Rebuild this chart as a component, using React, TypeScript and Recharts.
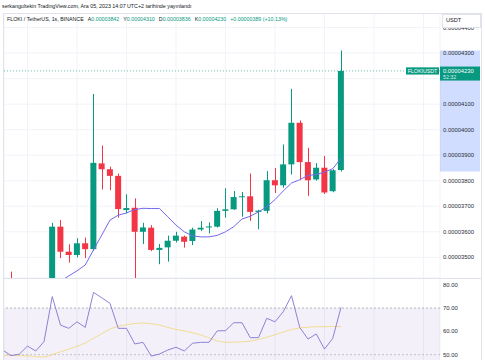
import React from 'react';
import {
  ComposedChart,
  Bar,
  Line,
  XAxis,
  YAxis,
  CartesianGrid,
  ReferenceLine,
  ReferenceArea,
} from 'recharts';

// Prices are stored in units of 1e-8 USDT (3842 -> 0.00003842)
const candleIndex = [-1, 0, 1, 2, 3, 4, 5, 6, 7, 8, 9, 10, 11, 12, 13, 14, 15, 16, 17, 18, 19, 20, 21, 22, 23, 24, 25, 26, 27, 28, 29, 30, 31, 32, 33, 34, 35, 36, 37, 38, 39, 40];
const openP = [3395, 3400, 3388, 3391, 3402, 3395, 3408, 3620, 3522, 3509, 3555, 3532, 3868, 3845, 3819, 3685, 3694, 3600, 3616, 3529, 3539, 3565, 3581, 3564, 3609, 3617, 3620, 3682, 3688, 3736, 3739, 3678, 3682, 3802, 3782, 3864, 4027, 3873, 3805, 3851, 3759, 3842];
const highP = [3410, 3444, 3405, 3412, 3410, 3415, 3635, 3646, 3551, 3575, 3577, 4140, 3938, 3855, 3828, 3747, 3731, 3635, 3626, 3552, 3585, 3600, 3585, 3616, 3642, 3637, 3692, 3770, 3760, 3756, 3828, 3686, 3838, 3850, 3942, 4160, 4036, 3929, 3869, 3897, 3845, 4310];
const lowP = [3385, 3380, 3378, 3386, 3390, 3390, 3400, 3497, 3479, 3500, 3497, 3525, 3766, 3763, 3655, 3672, 3405, 3552, 3524, 3473, 3483, 3558, 3538, 3548, 3603, 3594, 3617, 3655, 3686, 3659, 3643, 3610, 3672, 3752, 3772, 3824, 3802, 3741, 3800, 3748, 3755, 3836];
const closeP = [3402, 3388, 3391, 3402, 3395, 3408, 3620, 3522, 3509, 3555, 3532, 3870, 3845, 3819, 3689, 3693, 3600, 3617, 3529, 3537, 3565, 3585, 3561, 3609, 3616, 3621, 3682, 3688, 3736, 3739, 3678, 3683, 3802, 3782, 3864, 4027, 3873, 3802, 3851, 3754, 3841, 4230];
const maP = [3370, 3374, 3377, 3380, 3383, 3386, 3392, 3407, 3427, 3447, 3470, 3529, 3587, 3646, 3665, 3674, 3687, 3692, 3691, 3691, 3659, 3626, 3600, 3584, 3580, 3580, 3586, 3600, 3620, 3650, 3661, 3678, 3698, 3726, 3760, 3791, 3804, 3821, 3824, 3834, 3847, 3888];
const rsiVals = [52.0, 49.6, 50.2, 53.7, 51.6, 55.6, 74.9, 62.7, 61.3, 64.1, 61.7, 76.7, 74.4, 72.0, 61.3, 61.3, 54.6, 55.3, 49.4, 50.3, 52.0, 53.2, 51.6, 54.9, 55.3, 55.3, 60.2, 60.3, 63.7, 63.7, 57.3, 57.3, 65.6, 64.1, 68.4, 75.3, 61.7, 56.7, 58.9, 52.4, 57.0, 70.3];
const rsiMaVals = [49.8, 49.7, 49.6, 49.5, 49.2, 48.9, 50.0, 51.2, 52.4, 53.6, 55.0, 57.0, 59.0, 61.0, 62.2, 62.8, 63.4, 63.6, 63.3, 62.7, 61.7, 60.8, 60.2, 59.4, 58.5, 57.2, 55.9, 55.3, 55.4, 55.5, 55.8, 56.5, 57.5, 58.6, 59.7, 60.8, 61.5, 61.8, 62.0, 62.0, 62.1, 62.1];

const priceTicks = [3500, 3600, 3700, 3800, 3900, 4000, 4100, 4200, 4300, 4400];
const rsiTicks = [50, 60, 70, 80];
const timeGrid = [2, 8, 14, 20, 26, 32, 38, 44, 50];

const titleText = 'serkangultekin TradingView.com, Ara 05, 2023 14:07 UTC+2 tarihinde yayınlandı';
const seriesName = 'FLOKI / TetherUS, 1s, BINANCE';
const symbol = 'FLOKIUSDT';
const currency = 'USDT';
const countdown = '52:32';

const UP = '#089981';
const DOWN = '#f23645';
const FONT = '"Liberation Sans", Arial, sans-serif';
const TICK_COLOR = '#2a2e39';

const X_MIN = -0.85;
const X_MAX = 52;
const PRICE_DOMAIN = [3419, 4457];
const RSI_DOMAIN = [47.73, 82.44];

const fmtPrice = (v: number) => (v * 1e-8).toFixed(8);

const candleData = candleIndex.map((i, k) => ({
  i,
  o: openP[k],
  h: highP[k],
  l: lowP[k],
  c: closeP[k],
  range: [lowP[k], highP[k]],
  ma: maP[k],
}));

const rsiData = candleIndex.map((i, k) => ({ i, rsi: rsiVals[k], rsiMa: rsiMaVals[k] }));

const last = candleData.length - 1;
const lastO = openP[last];
const lastH = highP[last];
const lastL = lowP[last];
const lastC = closeP[last];
const change = lastC - closeP[last - 1];
const changePct = (change / closeP[last - 1]) * 100;

const Candle = (props: any) => {
  const { x, y, width, height, payload } = props;
  if (x == null || y == null || !payload) return null;
  const { o, h, l, c } = payload;
  const span = h - l || 1;
  const k = height / span;
  const yOf = (v: number) => y + (h - v) * k;
  const up = c >= o;
  const color = up ? UP : DOWN;
  const top = yOf(Math.max(o, c));
  const bot = yOf(Math.min(o, c));
  const cx = Math.round(x + width / 2) + 0.5;
  return (
    <g>
      <line x1={cx} x2={cx} y1={y} y2={y + height} stroke={color} strokeWidth={1} />
      <rect x={x} y={top} width={width} height={Math.max(1, bot - top)} fill={color} />
    </g>
  );
};

// price-axis label; the one hidden under the last-price tag is not drawn
const PriceTick = (props: any) => {
  const { x, y, payload } = props;
  const v = payload?.value;
  if (v == null || Math.abs(v - lastC) < 45) return null;
  return (
    <text x={x} y={y} dy="0.355em" fontSize={5.9} fill={TICK_COLOR} textAnchor="start" fontFamily={FONT}>
      {fmtPrice(v)}
    </text>
  );
};

const PriceTag = (props: any) => {
  const vb = props.viewBox || {};
  const right = (vb.x || 0) + (vb.width || 0);
  const yy = vb.y || 0;
  return (
    <g style={{ fontFamily: FONT }}>
      <rect x={right - 34} y={yy - 3.6} width={33} height={7.2} fill={UP} />
      <text x={right - 17.5} y={yy + 1.9} fontSize={5.3} fill="#fff" textAnchor="middle">
        {symbol}
      </text>
      <rect x={right} y={yy - 4.4} width={40} height={14} fill={UP} />
      <text x={right + 3} y={yy + 2} fontSize={5.8} fill="#fff">
        {fmtPrice(lastC)}
      </text>
      <text x={right + 3} y={yy + 7.8} fontSize={5.3} fill="#fff" fillOpacity={0.85}>
        {countdown}
      </text>
    </g>
  );
};

const legendItem = (label: string, value: string) => (
  <span style={{ marginLeft: 4 }}>
    {label}
    <span style={{ color: UP }}>{value}</span>
  </span>
);

export default function App() {
  return (
    <div
      style={{
        position: 'absolute',
        left: 0,
        top: 0,
        width: 485,
        height: 360,
        background: '#fff',
        overflow: 'hidden',
        fontFamily: FONT,
      }}
    >
      <div
        style={{
          position: 'absolute',
          left: 2,
          top: 2.5,
          fontSize: 5.3,
          lineHeight: '7px',
          color: '#131722',
          whiteSpace: 'nowrap',
        }}
      >
        {titleText}
      </div>

      <div style={{ position: 'absolute', left: 0, top: 13 }}>
        <ComposedChart
          width={485}
          height={265}
          data={candleData}
          margin={{ top: 0, right: 4, bottom: 0, left: 4 }}
        >
          <CartesianGrid stroke="#f1f3f8" strokeWidth={1} />
          <XAxis
            type="number"
            dataKey="i"
            domain={[X_MIN, X_MAX]}
            allowDataOverflow
            ticks={timeGrid}
            hide
          />
          <ReferenceArea
            x1={X_MAX}
            x2={X_MAX + 4.85}
            y1={lastL}
            y2={lastH}
            fill="#2962ff"
            fillOpacity={0.22}
            stroke="none"
            ifOverflow="visible"
          />
          <YAxis
            orientation="right"
            width={41}
            domain={PRICE_DOMAIN}
            allowDataOverflow
            ticks={priceTicks}
            axisLine={false}
            tickLine={false}
            tickSize={0}
            tickMargin={3}
            tick={(p: any) => <PriceTick {...p} />}
          />
          <Bar dataKey="range" barSize={6} shape={(p: any) => <Candle {...p} />} isAnimationActive={false} />
          <Line
            dataKey="ma"
            type="linear"
            stroke="#7468ee"
            strokeWidth={1}
            dot={false}
            activeDot={false}
            isAnimationActive={false}
          />
          <ReferenceLine
            y={lastC}
            stroke={UP}
            strokeOpacity={0.6}
            strokeDasharray="1 2"
            label={<PriceTag />}
          />
        </ComposedChart>
      </div>

      <div style={{ position: 'absolute', left: 0, top: 279 }}>
        <ComposedChart
          width={485}
          height={81}
          data={rsiData}
          margin={{ top: 0, right: 4, bottom: 0, left: 4 }}
        >
          <CartesianGrid stroke="#f1f3f8" horizontal={false} />
          <XAxis
            type="number"
            dataKey="i"
            domain={[X_MIN, X_MAX]}
            allowDataOverflow
            ticks={timeGrid}
            hide
          />
          <YAxis
            orientation="right"
            width={41}
            domain={RSI_DOMAIN}
            allowDataOverflow
            ticks={rsiTicks}
            tickFormatter={(v: number) => v.toFixed(2)}
            axisLine={false}
            tickLine={false}
            tickSize={0}
            tickMargin={3}
            tick={{ fontSize: 5.9, fill: TICK_COLOR }}
          />
          <ReferenceArea y1={30} y2={70} fill="#7e57c2" fillOpacity={0.09} stroke="none" ifOverflow="hidden" />
          <ReferenceLine y={70} stroke="#9598a1" strokeDasharray="2 2" strokeOpacity={0.7} />
          <ReferenceLine y={50} stroke="#9598a1" strokeDasharray="2 2" strokeOpacity={0.5} />
          <Line
            dataKey="rsiMa"
            type="linear"
            stroke="#f3d77c"
            strokeOpacity={0.8}
            strokeWidth={1}
            dot={false}
            activeDot={false}
            isAnimationActive={false}
          />
          <Line
            dataKey="rsi"
            type="linear"
            stroke="#8f82d6"
            strokeWidth={1}
            dot={false}
            activeDot={false}
            isAnimationActive={false}
          />
        </ComposedChart>
      </div>

      {/* pane frame and separator */}
      <div
        style={{
          position: 'absolute',
          left: 3,
          top: 13,
          width: 477,
          height: 360,
          borderLeft: '1px solid #e0e3eb',
          borderTop: '1px solid #e0e3eb',
          borderRight: '1px solid #e0e3eb',
          pointerEvents: 'none',
        }}
      />
      <div style={{ position: 'absolute', left: 3, top: 278, width: 478, height: 1, background: '#e0e3eb' }} />

      {/* legend */}
      <div
        style={{
          position: 'absolute',
          left: 7,
          top: 15.5,
          fontSize: 5.3,
          lineHeight: '7px',
          color: '#131722',
          whiteSpace: 'nowrap',
        }}
      >
        {seriesName}
        {legendItem('A', fmtPrice(lastO))}
        {legendItem('Y', fmtPrice(lastH))}
        {legendItem('D', fmtPrice(lastL))}
        {legendItem('K', fmtPrice(lastC))}
        <span style={{ marginLeft: 4, color: UP }}>
          {(change >= 0 ? '+' : '') + fmtPrice(change)} ({(changePct >= 0 ? '+' : '') + changePct.toFixed(2)}%)
        </span>
      </div>

      {/* currency box */}
      <div
        style={{
          position: 'absolute',
          left: 442,
          top: 14,
          width: 34,
          height: 12,
          border: '1px solid #e0e3eb',
          background: '#fff',
          fontSize: 5.6,
          lineHeight: '11px',
          color: '#131722',
          paddingLeft: 3,
          boxSizing: 'content-box',
        }}
      >
        {currency}
      </div>
    </div>
  );
}
